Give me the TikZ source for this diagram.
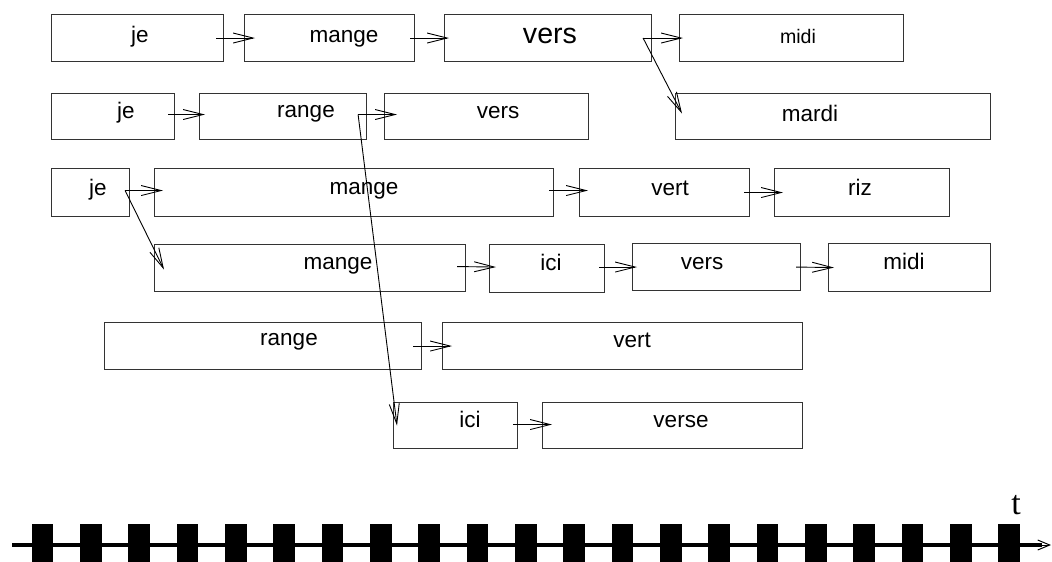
\documentclass[tikz,border=0pt]{standalone}
\usepackage{fontspec}
\setmainfont{Liberation Sans}
\newfontfamily\serifface{Liberation Serif}
\usetikzlibrary{arrows.meta}
\tikzset{
  box/.style={draw=black!80, line width=1.1pt, inner sep=0pt, anchor=north west},
  lbl/.style={anchor=base, inner sep=0pt, font=\fontsize{22.5}{24}\selectfont},
  arr/.style={line width=0.9pt, -{Straight Barb[length=20pt,width=10pt]}},
}
\newcommand\mkbox[5]{\node[box,minimum width={#4pt-#2pt},minimum height={#5pt-#3pt}] (#1) at (#2,#3) {};}
\begin{document}
\begin{tikzpicture}[x=1pt,y=-1pt]
\useasboundingbox (0,0) rectangle (1052,562);
% row 1
\mkbox{je1}{51}{14}{223}{61}
\mkbox{mange1}{244}{14}{414}{61}
\mkbox{vers1}{444}{14}{651}{61}
\mkbox{midi1}{679}{14}{903}{61}
% row 2
\mkbox{je2}{51}{93}{174}{139}
\mkbox{range2}{199}{93}{366}{139}
\mkbox{vers2}{384}{93}{588}{139}
\mkbox{mardi2}{675}{93}{990}{139}
% row 3
\mkbox{je3}{51}{168}{129}{216}
\mkbox{mange3}{154}{168}{553}{216}
\mkbox{vert3}{579}{168}{749}{216}
\mkbox{riz3}{774}{168}{949}{216}
% row 4
\mkbox{mange4}{154}{244}{465}{291}
\mkbox{ici4}{489}{244}{604}{292}
\mkbox{vers4}{632}{243}{800}{290}
\mkbox{midi4}{828}{243}{990}{291}
% row 5
\mkbox{range5}{104}{322}{421}{369}
\mkbox{vert5}{442}{322}{802}{369}
% row 6
\mkbox{ici6}{393}{402}{517}{448}
\mkbox{verse6}{542}{402}{802}{448}
% labels
\node[lbl] (je1t) at (140,42) {je};
\node[lbl] (mange1t) at (344,42) {mange};
\node[lbl, font=\fontsize{28.6}{30}\selectfont] (vers1t) at (550,43) {vers};
\node[lbl, font=\fontsize{19.6}{21}\selectfont] (midi1t) at (798,43) {midi};
\node[lbl] (je2t) at (126,118) {je};
\node[lbl] (range2t) at (306,117) {range};
\node[lbl] (vers2t) at (498,118) {vers};
\node[lbl] (mardi2t) at (810,121) {mardi};
\node[lbl] (je3t) at (98,195) {je};
\node[lbl] (mange3t) at (364,194) {mange};
\node[lbl] (vert3t) at (670,195) {vert};
\node[lbl] (riz3t) at (860,195) {riz};
\node[lbl] (mange4t) at (338,269) {mange};
\node[lbl] (ici4t) at (551,270) {ici};
\node[lbl] (vers4t) at (702,269) {vers};
\node[lbl] (midi4t) at (904,269) {midi};
\node[lbl] (range5t) at (289,345) {range};
\node[lbl] (vert5t) at (632,347) {vert};
\node[lbl] (ici6t) at (470,427) {ici};
\node[lbl] (verse6t) at (681,427) {verse};
% connectors
\draw[arr] ([xshift=-8pt]je1.east) -- ([xshift=11pt]mange1.west);
\draw[arr] ([xshift=-5pt]mange1.east) -- ([xshift=5pt]vers1.west);
\draw[arr] ([xshift=-9pt]vers1.east) -- ([xshift=4pt]midi1.west);
\draw[arr] ([xshift=-9pt]vers1.east) -- ([xshift=7pt,yshift=3pt]mardi2.west);
\draw[arr] ([xshift=-7pt,yshift=2pt]je2.east) -- ([xshift=6pt,yshift=2pt]range2.west);
\draw[arr] ([xshift=-9pt,yshift=2pt]range2.east) -- ([xshift=13pt,yshift=2pt]vers2.west);
\draw[arr] ([xshift=-9pt,yshift=2pt]range2.east) -- ([xshift=4pt]ici6.west);
\draw[arr] ([xshift=-5pt,yshift=2pt]je3.east) -- ([xshift=9pt,yshift=2pt]mange3.west);
\draw[arr] ([xshift=-5pt,yshift=2pt]je3.east) -- ([xshift=10pt,yshift=-1.5pt]mange4.west);
\draw[arr] ([xshift=-5pt,yshift=2pt]mange3.east) -- ([xshift=9pt,yshift=2pt]vert3.west);
\draw[arr] ([xshift=-6pt]vert3.east) -- ([xshift=9pt]riz3.west);
\draw[arr] ([xshift=-9pt,yshift=1.5pt]mange4.east) -- ([xshift=7pt,yshift=1.5pt]ici4.west);
\draw[arr] ([xshift=-6pt,yshift=1.5pt]ici4.east) -- ([xshift=5pt]vers4.west);
\draw[arr] ([xshift=-5pt]vers4.east) -- ([xshift=6pt]midi4.west);
\draw[arr] ([xshift=-9pt]range5.east) -- ([xshift=10pt]vert5.west);
\draw[arr] ([xshift=-5pt,yshift=1pt]ici6.east) -- ([xshift=10pt,yshift=1pt]verse6.west);
% time axis
\foreach \i in {0,...,20} \fill ({31.7+48.33*\i},524) rectangle ++(21.7,38);
\draw[line width=4.5pt] (12,545) -- (1042,545);
\draw[line width=1pt,-{Straight Barb[length=12pt,width=10pt]}] (1030,545) -- (1051,545);
\node[anchor=base, inner sep=0pt, font=\serifface\fontsize{34}{36}\selectfont] (t) at (1016,514) {t};
\end{tikzpicture}
\end{document}
